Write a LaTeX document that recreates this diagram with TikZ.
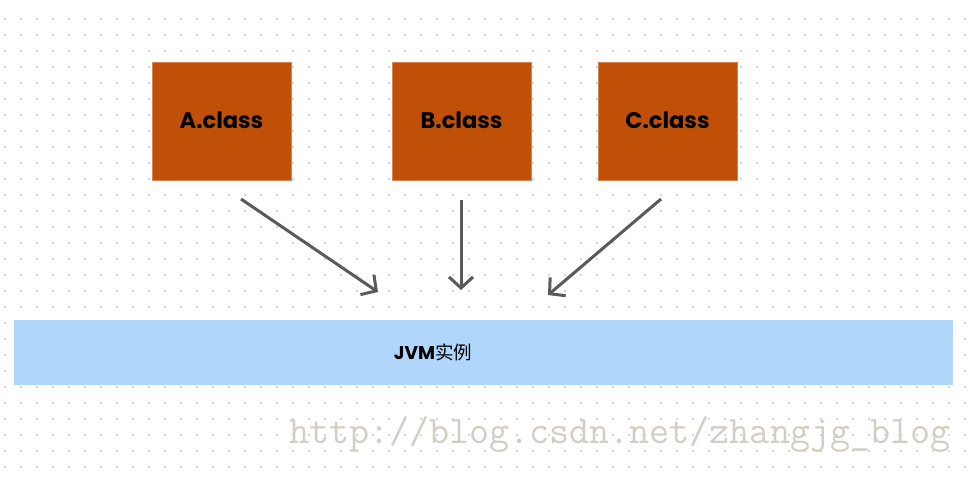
\documentclass[tikz,border=0pt]{standalone}
\usepackage{fontspec}
\usetikzlibrary{arrows.meta}
\newfontfamily\boxfont{Poppins}
\newfontfamily\cjk{Noto Sans CJK SC}
\definecolor{classfill}{RGB}{192,80,8}
\definecolor{jvmfill}{RGB}{176,214,252}
\definecolor{arrowgray}{RGB}{90,90,90}
\definecolor{dotgray}{RGB}{214,214,214}
\definecolor{wmgray}{RGB}{210,206,198}

\begin{document}
\begin{tikzpicture}[x=1pt, y=-1pt,
    classbox/.style={fill=classfill, draw=classfill!70!white, minimum width=139pt, minimum height=118pt, inner sep=0pt},
    loadarrow/.style={draw=arrowgray, line width=3pt, -{Straight Barb[length=11pt,width=24pt]}}]

  \useasboundingbox[fill=white] (0,0) rectangle (978,480);

	%dotted background
    \foreach \i in {0,...,60}{
      \foreach \j in {0,...,28}{
        \fill[dotgray] (5+\i*16-0.6, 19+\j*16-1.2) rectangle (5+\i*16+0.6, 19+\j*16+1.2);
      }
    }

	%class files
    \foreach \x/\num/\name in {221.5/A.class/A, 461.5/B.class/B, 667.5/C.class/C}{
      \node[classbox] (\name) at (\x, 121) {\boxfont\bfseries\fontsize{22.5}{22.5}\selectfont\raisebox{1.5pt}{\num}};
    }

	%jvm instance
    \node[fill=jvmfill, minimum width=939pt, minimum height=65pt, inner sep=0pt] (jvm) at (483.5, 352.5) {};
    \node (jvmtext) at (433, 352) {\fontsize{18.5}{18.5}\selectfont{\boxfont\bfseries JVM}\cjk 实例};

	%arrows
    \coordinate (A-s) at (241,199);  \coordinate (A-e) at (378,292);
    \coordinate (B-s) at (461,200);  \coordinate (B-e) at (461,290);
    \coordinate (C-s) at (661,199);  \coordinate (C-e) at (548,295);
    \foreach \name in {A,B,C}{
      \draw[loadarrow] (\name-s) -- (\name-e);
    }

	%watermark
    \node[wmgray, anchor=west, inner sep=0pt] (mark) at (289, 434) {\ttfamily\fontsize{38.9}{38.9}\selectfont http://blog.csdn.net/zhangjg\_blog};

\end{tikzpicture}
\end{document}
